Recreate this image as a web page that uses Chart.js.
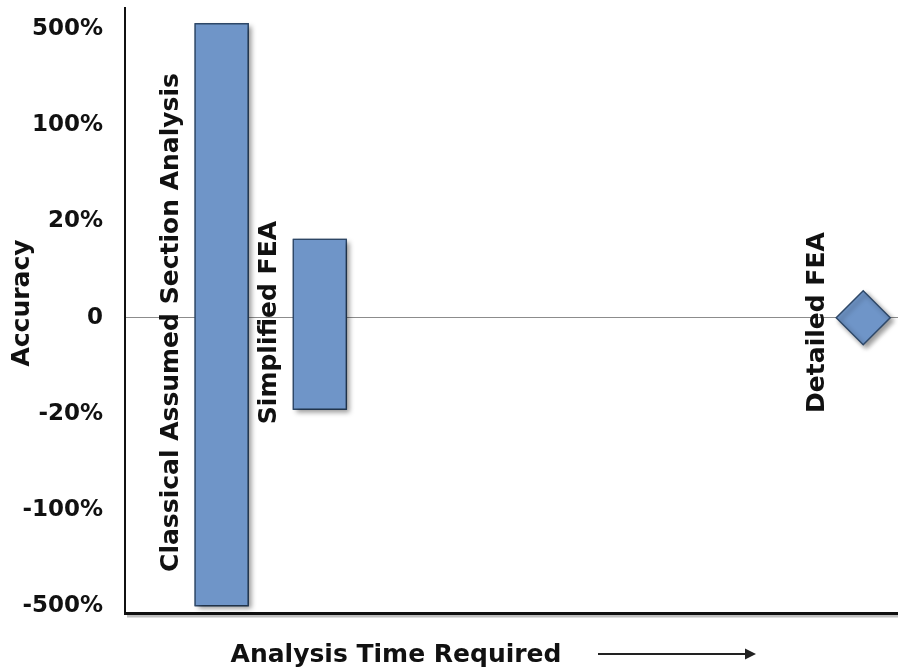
<!DOCTYPE html>
<html><head><meta charset="utf-8">
<script src="https://cdn.jsdelivr.net/npm/chart.js@4/dist/chart.umd.min.js"></script>
<style>html,body{margin:0;padding:0;background:#fff}#wrap{width:898px;height:669px;position:relative}</style>
</head><body><div id="wrap"><canvas id="c"></canvas></div>
<script>
// ---- data ----
const methods = ['Classical Assumed Section Analysis', 'Simplified FEA', 'Detailed FEA'];
const timePositions = [12.5, 25.2, 95.5];      // relative analysis time (x)
const accuracyLow  = [-3, -0.955, 0];           // index on the accuracy scale
const accuracyHigh = [3.06, 0.82, 0];
const tickValues = [-3, -2, -1, 0, 1, 2, 3];
const tickLabels = ['-500%', '-100%', '-20%', '0', '20%', '100%', '500%'];
const xTitle = 'Analysis Time Required';
const yTitle = 'Accuracy';

const FONT = "'DejaVu Sans', Verdana, sans-serif";
const FILL = '#6F95C8';
const EDGE = '#2E4868';

const barData = [0, 1].map(i => ({ x: timePositions[i], y: [accuracyLow[i], accuracyHigh[i]], label: methods[i] }));
const pointData = [{ x: timePositions[2], y: accuracyLow[2], label: methods[2] }];

function setShadow(ctx) {
  ctx.shadowColor = 'rgba(0,0,0,0.4)';
  ctx.shadowBlur = 5;
  ctx.shadowOffsetX = 3;
  ctx.shadowOffsetY = 3;
}

const decor = {
  id: 'decor',
  beforeDatasetDraw(chart, args) {
    const ctx = chart.ctx;
    ctx.save();
    setShadow(ctx);
    const ds = chart.data.datasets[args.index];
    if (ds.type === 'bar') {
      // bar elements clip their own drawing, so paint the shadow separately underneath
      args.meta.data.forEach(el => {
        const p = el.getProps(['x', 'y', 'base', 'width'], true);
        const top = Math.min(p.y, p.base), h = Math.abs(p.base - p.y);
        ctx.fillStyle = EDGE;
        ctx.fillRect(p.x - p.width / 2, top, p.width, h);
      });
    }
  },
  afterDatasetDraw(chart) { chart.ctx.restore(); },
  beforeDraw(chart) {
    // light shadow under the x axis line
    const ctx = chart.ctx, a = chart.chartArea;
    ctx.save();
    ctx.strokeStyle = 'rgba(0,0,0,0.25)';
    ctx.lineWidth = 3;
    ctx.beginPath();
    ctx.moveTo(a.left + 2, a.bottom + 3);
    ctx.lineTo(a.right, a.bottom + 3);
    ctx.stroke();
    ctx.restore();
  },
  afterDraw(chart) {
    const ctx = chart.ctx;
    const ys = chart.scales.y;
    const labelY = ys.getPixelForValue(-0.05);
    ctx.save();
    ctx.fillStyle = '#111';
    ctx.font = `bold 25px ${FONT}`;
    ctx.textAlign = 'center';
    ctx.textBaseline = 'middle';
    // method labels, rotated, to the left of each mark
    chart.data.datasets.forEach((ds, di) => {
      const meta = chart.getDatasetMeta(di);
      meta.data.forEach((el, i) => {
        const half = ds.type === 'bar' ? el.width / 2 : ds.pointRadius;
        const lx = el.x - half - (ds.type === 'bar' ? 23 : 19);
        ctx.save();
        ctx.translate(lx, labelY);
        ctx.rotate(-Math.PI / 2);
        ctx.fillText(ds.data[i].label, 0, 0);
        ctx.restore();
      });
    });
    // y title
    ctx.save();
    ctx.translate(22, 303);
    ctx.rotate(-Math.PI / 2);
    ctx.fillText(yTitle, 0, 0);
    ctx.restore();
    // x title + arrow
    ctx.textBaseline = 'alphabetic';
    ctx.fillText(xTitle, 396, 662);
    ctx.strokeStyle = '#222';
    ctx.lineWidth = 2;
    ctx.beginPath();
    ctx.moveTo(598, 654);
    ctx.lineTo(748, 654);
    ctx.stroke();
    ctx.beginPath();
    ctx.moveTo(756, 654);
    ctx.lineTo(745, 648.5);
    ctx.lineTo(745, 659.5);
    ctx.closePath();
    ctx.fillStyle = '#222';
    ctx.fill();
    ctx.restore();
  }
};

new Chart(document.getElementById('c'), {
  type: 'bar',
  data: {
    datasets: [
      {
        type: 'bar',
        data: barData,
        backgroundColor: FILL,
        borderColor: EDGE,
        borderWidth: 1.5,
        borderSkipped: false,
        barThickness: 54,
        grouped: false
      },
      {
        type: 'scatter',
        data: pointData,
        pointStyle: 'rectRot',
        pointRadius: 27,
        backgroundColor: FILL,
        borderColor: EDGE,
        borderWidth: 1.5,
        clip: false
      }
    ]
  },
  options: {
    responsive: true,
    maintainAspectRatio: false,
    animation: false,
    events: [],
    layout: { autoPadding: false, padding: { top: 8, right: 0, left: 0, bottom: 0 } },
    plugins: { legend: { display: false }, tooltip: { enabled: false } },
    scales: {
      x: {
        type: 'linear', min: 0, max: 100, offset: false,
        grid: { display: false, drawTicks: false },
        border: { display: true, color: '#111', width: 3 },
        ticks: { display: false },
        afterFit(a) { a.height = 56; a.paddingLeft = 0; a.paddingRight = 0; }
      },
      y: {
        type: 'linear', min: -3.07, max: 3.22,
        afterBuildTicks(a) { a.ticks = tickValues.map(v => ({ value: v })); },
        ticks: {
          callback: (v, i) => tickLabels[i],
          font: { family: FONT, weight: 'bold', size: 23 },
          color: '#111',
          padding: 22
        },
        grid: {
          drawTicks: false,
          color: c => (c.tick && c.tick.value === 0) ? '#8c8c8c' : 'rgba(0,0,0,0)',
          lineWidth: 1
        },
        border: { display: true, color: '#111', width: 2 },
        afterFit(a) { a.width = 125; a.paddingTop = 0; a.paddingBottom = 0; }
      }
    }
  },
  plugins: [decor]
});
</script>
</body></html>
